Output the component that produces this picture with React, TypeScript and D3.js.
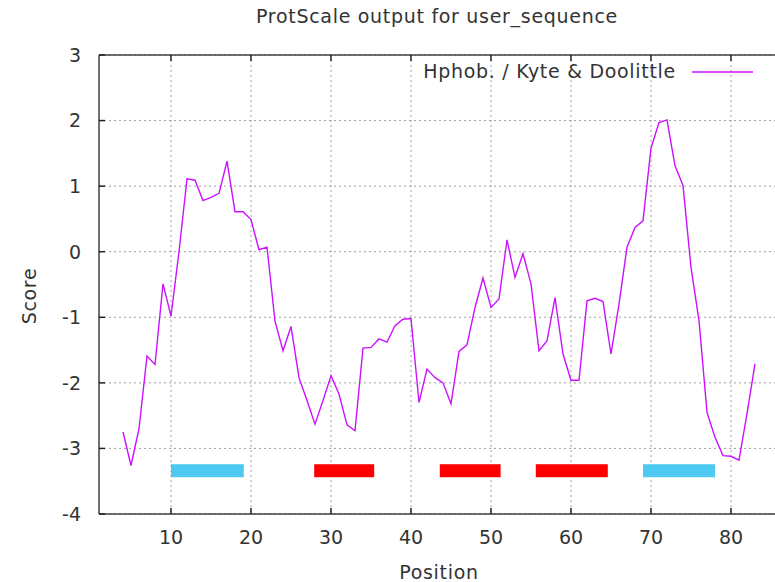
import React from 'react';
import * as d3 from 'd3';

// window positions and Kyte & Doolittle scores
const positions = [
  4, 5, 6, 7, 8, 9, 10, 11, 12, 13, 14, 15, 16, 17, 18, 19, 20, 21, 22, 23,
  24, 25, 26, 27, 28, 29, 30, 31, 32, 33, 34, 35, 36, 37, 38, 39, 40, 41, 42, 43,
  44, 45, 46, 47, 48, 49, 50, 51, 52, 53, 54, 55, 56, 57, 58, 59, 60, 61, 62, 63,
  64, 65, 66, 67, 68, 69, 70, 71, 72, 73, 74, 75, 76, 77, 78, 79, 80, 81, 82, 83,
];
const scores = [
  -2.75, -3.26, -2.7, -1.59, -1.72, -0.49, -0.98, 0.0, 1.11, 1.09, 0.78, 0.83, 0.89, 1.38, 0.61, 0.61, 0.49, 0.03, 0.07, -1.06,
  -1.51, -1.14, -1.92, -2.27, -2.63, -2.27, -1.89, -2.17, -2.64, -2.73, -1.47, -1.46, -1.33, -1.38, -1.13, -1.03, -1.02, -2.3, -1.79, -1.92,
  -2.0, -2.32, -1.52, -1.42, -0.85, -0.4, -0.85, -0.72, 0.18, -0.39, -0.03, -0.49, -1.51, -1.36, -0.7, -1.56, -1.96, -1.96, -0.75, -0.71,
  -0.76, -1.56, -0.8, 0.07, 0.37, 0.47, 1.58, 1.97, 2.01, 1.31, 1.01, -0.24, -1.05, -2.45, -2.83, -3.11, -3.12, -3.18, -2.47, -1.71,
];

// segment annotations along the bottom
const segStart = [10, 27.9, 43.6, 55.6, 69];
const segEnd = [19.1, 35.4, 51.2, 64.6, 78];
const segKind = ['cyan', 'red', 'red', 'red', 'cyan'];

const xTicks = [10, 20, 30, 40, 50, 60, 70, 80];
const yTicks = [3, 2, 1, 0, -1, -2, -3, -4];

const W = 775;
const H = 582;
const FONT = 'DejaVu Sans, sans-serif';
const LINE = '#cc11ff';
const LS = 0.7;

export default function App() {
  const x = d3.scaleLinear().domain([1, 86]).range([99, 779]);
  const y = d3.scaleLinear().domain([-4, 3]).range([514, 55]);
  const left = x(1);
  const top = y(3);
  const bottom = y(-4);

  const line = d3.line<number>()
    .x((_, i) => x(positions[i]))
    .y(d => y(d));

  const segColor = (k: string) => (k === 'red' ? '#ff0000' : '#4ec9f2');
  const segY = y(-3.34);

  return (
    <svg width={W} height={H} style={{ position: 'absolute', left: 0, top: 0, background: '#fff' }}
      fontFamily={FONT}>
      <rect width={W} height={H} fill="#fff" />

      {/* grid */}
      {xTicks.map(t => (
        <line key={'gx' + t} x1={x(t)} x2={x(t)} y1={top} y2={bottom}
          stroke="#a0a0a0" strokeWidth={1} strokeDasharray="2,3" />
      ))}
      {yTicks.map(t => (
        <line key={'gy' + t} x1={left} x2={W} y1={y(t)} y2={y(t)}
          stroke="#a0a0a0" strokeWidth={1} strokeDasharray="2,3" />
      ))}

      {/* frame */}
      <line x1={left} x2={W} y1={top} y2={top} stroke="#404040" strokeWidth={1.5} />
      <line x1={left} x2={W} y1={bottom} y2={bottom} stroke="#404040" strokeWidth={1.5} />
      <line x1={left} x2={left} y1={top} y2={bottom} stroke="#404040" strokeWidth={1.5} />

      {/* ticks */}
      {xTicks.map(t => (
        <g key={'tx' + t}>
          <line x1={x(t)} x2={x(t)} y1={bottom} y2={bottom - 6} stroke="#222" strokeWidth={1.5} />
          <line x1={x(t)} x2={x(t)} y1={top} y2={top + 6} stroke="#222" strokeWidth={1.5} />
          <text x={x(t)} y={bottom + 30} textAnchor="middle" fontSize={19} fill="#333">{t}</text>
        </g>
      ))}
      {yTicks.map(t => (
        <g key={'ty' + t}>
          <line x1={left} x2={left + 6} y1={y(t)} y2={y(t)} stroke="#222" strokeWidth={1.5} />
          <text x={81} y={y(t)} dy="0.36em" textAnchor="end" fontSize={19} fill="#333">{t}</text>
        </g>
      ))}

      {/* segments */}
      {segStart.map((s, i) => (
        <rect key={'seg' + i} x={x(s)} y={segY - 6.5} width={x(segEnd[i]) - x(s)} height={13}
          fill={segColor(segKind[i])} />
      ))}

      {/* profile */}
      <path d={line(scores) ?? ''} fill="none" stroke={LINE} strokeWidth={1.4} />

      {/* legend */}
      <text x={676} y={78} textAnchor="end" fontSize={19} letterSpacing={LS} fill="#333">Hphob. / Kyte &amp; Doolittle</text>
      <line x1={692} x2={753} y1={72} y2={72} stroke={LINE} strokeWidth={1.4} />

      {/* titles */}
      <text x={437} y={23} textAnchor="middle" fontSize={19} letterSpacing={LS} fill="#333">ProtScale output for user_sequence</text>
      <text x={439} y={579} textAnchor="middle" fontSize={19} letterSpacing={LS} fill="#333">Position</text>
      <text transform="translate(36,296) rotate(-90)" textAnchor="middle" fontSize={19} letterSpacing={LS} fill="#333">Score</text>
    </svg>
  );
}
